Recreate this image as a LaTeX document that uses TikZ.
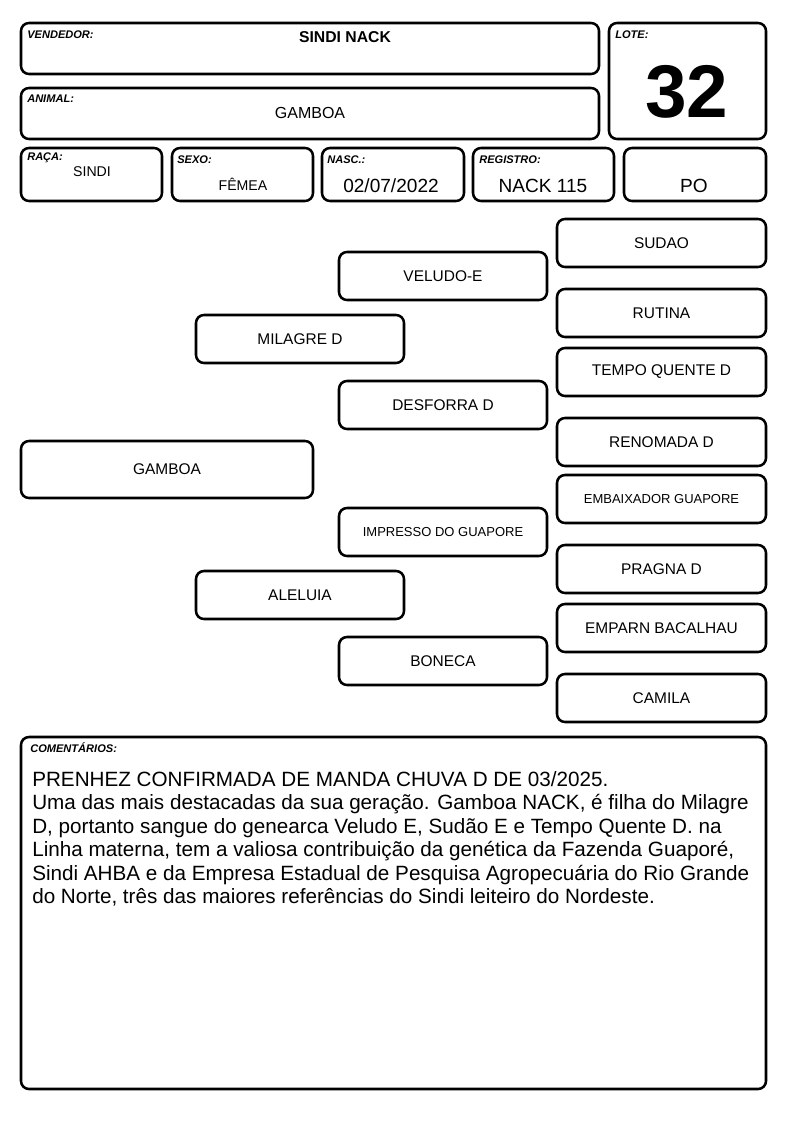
\documentclass[tikz,border=0pt]{standalone}
\usepackage{fontspec}
\setmainfont{Liberation Sans}
\begin{document}
\begin{tikzpicture}[x=0.75pt,y=-0.75pt,
  box/.style={draw, line width=1.9pt, rounded corners=6pt, inner sep=0pt},
  sz/.style 2 args={minimum width=#1*0.75pt, minimum height=#2*0.75pt},
  lab/.style={font=\fontsize{8.3}{9}\selectfont\bfseries\itshape, anchor=west, inner sep=0pt},
  nm/.style={font=\fontsize{11.6}{13}\selectfont},
  smtxt/.style={font=\fontsize{9.75}{11}\selectfont},
  val/.style={inner sep=0pt}]
\useasboundingbox (0,0) rectangle (794,1123);
% header boxes
\node[box,sz={578}{51}] (vend) at (310,48.5) {};
\node[box,sz={578}{51}] (anim) at (310,113.5) {};
\node[box,sz={157}{116}] (lote) at (687.5,81) {};
\node[box,sz={141}{53}] (raca) at (91.5,174.5) {};
\node[box,sz={141}{53}] (sexo) at (242.5,174.5) {};
\node[box,sz={142}{53}] (nasc) at (393,174.5) {};
\node[box,sz={141}{53}] (reg) at (543.5,174.5) {};
\node[box,sz={142}{53}] (po) at (695,174.5) {};
% labels
\node[lab] (lvend) at (27,35) {VENDEDOR:};
\node[lab] (lanim) at (27,99) {ANIMAL:};
\node[lab] (llote) at (615,35) {LOTE:};
\node[lab] (lraca) at (27,158) {RAÇA:};
\node[lab] (lsexo) at (177,160) {SEXO:};
\node[lab] (lnasc) at (327,160) {NASC.:};
\node[lab] (lreg) at (479,160) {REGISTRO:};
% values
\node[val,font=\fontsize{11.8}{13}\selectfont\bfseries] (vvend) at (345,37) {SINDI NACK};
\node[val,font=\fontsize{12}{14}\selectfont] (vanim) at (310,113) {GAMBOA};
\node[val,font=\fontsize{56}{60}\selectfont\bfseries] (vlote) at (687,92) {32};
\node[val,font=\fontsize{10.6}{12}\selectfont] (vraca) at (92,172) {SINDI};
\node[val,font=\fontsize{10.6}{12}\selectfont] (vsexo) at (243,184) {FÊMEA};
\node[val,font=\fontsize{14.3}{16}\selectfont] (vnasc) at (391,186) {02/07/2022};
\node[val,font=\fontsize{14.3}{16}\selectfont] (vreg) at (543,186) {NACK 115};
\node[val,font=\fontsize{14.3}{16}\selectfont] (vpo) at (694,186) {PO};
% pedigree
\node[box,sz={292}{57},nm] (g0) at (167,469.5) {GAMBOA};
\node[box,sz={208}{48},nm] (p1) at (300,339) {MILAGRE D};
\node[box,sz={208}{48},nm] (m1) at (300,595) {ALELUIA};
\node[box,sz={208}{48},nm] (pp) at (443,276) {VELUDO-E};
\node[box,sz={208}{48},nm] (pm) at (443,405) {DESFORRA D};
\node[box,sz={208}{48},smtxt] (mp) at (443,532) {IMPRESSO DO GUAPORE};
\node[box,sz={208}{48},nm] (mm) at (443,661) {BONECA};
\node[box,sz={209}{48},nm] (ppp) at (661.5,243) {SUDAO};
\node[box,sz={209}{48},nm] (ppm) at (661.5,313) {RUTINA};
\node[box,sz={209}{48},nm] (pmp) at (661.5,372) {TEMPO QUENTE D};
\node[box,sz={209}{48},nm] (pmm) at (661.5,442) {RENOMADA D};
\node[box,sz={209}{48},smtxt] (mpp) at (661.5,499) {EMBAIXADOR GUAPORE};
\node[box,sz={209}{48},nm] (mpm) at (661.5,569) {PRAGNA D};
\node[box,sz={209}{48},nm] (mmp) at (661.5,628) {EMPARN BACALHAU};
\node[box,sz={209}{48},nm] (mmm) at (661.5,698) {CAMILA};
% comments
\node[box,sz={745}{352}] (com) at (393.5,913) {};
\node[lab] (lcom) at (30,748) {COMENTÁRIOS:};
\node[anchor=north west, inner sep=0pt, align=left, font=\fontsize{15.5}{17.6}\selectfont] (tcom) at (32,771) {PRENHEZ CONFIRMADA DE MANDA CHUVA D DE 03/2025.\\
Uma das mais destacadas da sua geração. Gamboa NACK, é filha do Milagre\\
D, portanto sangue do genearca Veludo E, Sudão E e Tempo Quente D. na\\
Linha materna, tem a valiosa contribuição da genética da Fazenda Guaporé,\\
Sindi AHBA e da Empresa Estadual de Pesquisa Agropecuária do Rio Grande\\
do Norte, três das maiores referências do Sindi leiteiro do Nordeste.};
\end{tikzpicture}
\end{document}
